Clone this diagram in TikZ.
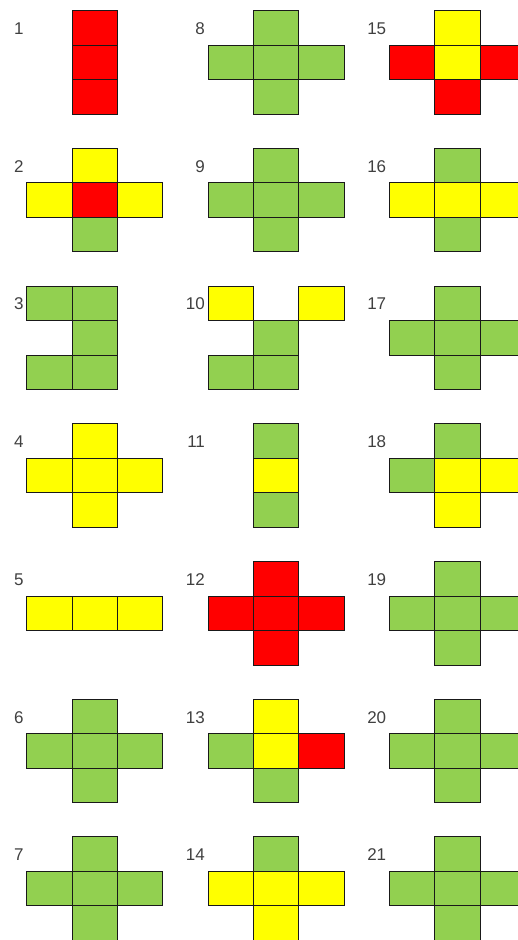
\documentclass[tikz,border=0pt]{standalone}
\usepackage{fontspec}
\setmainfont{Liberation Sans}
\usepackage{tikz}

\definecolor{gn}{HTML}{92D050}
\definecolor{rd}{HTML}{FF0000}
\definecolor{yl}{HTML}{FFFF00}
\tikzset{
  face/.style={draw=black!90, line width=1pt},
  netlabel/.style={anchor=east, inner sep=0pt, text=black!75, font=\fontsize{17}{17}\selectfont},
}

\begin{document}
\begin{tikzpicture}[x=1pt, y=-1pt]
\clip (0,0) rectangle (518,940);
\def\cw{45.3}
\def\ch{34.5}
% number / column / row / faces (across / down / colour)
\foreach \n/\pc/\pr/\faces in {
  1/0/0/{1/0/rd,1/1/rd,1/2/rd},
  2/0/1/{1/0/yl,0/1/yl,1/1/rd,2/1/yl,1/2/gn},
  3/0/2/{0/0/gn,1/0/gn,1/1/gn,0/2/gn,1/2/gn},
  4/0/3/{1/0/yl,0/1/yl,1/1/yl,2/1/yl,1/2/yl},
  5/0/4/{0/1/yl,1/1/yl,2/1/yl},
  6/0/5/{1/0/gn,0/1/gn,1/1/gn,2/1/gn,1/2/gn},
  7/0/6/{1/0/gn,0/1/gn,1/1/gn,2/1/gn,1/2/gn},
  8/1/0/{1/0/gn,0/1/gn,1/1/gn,2/1/gn,1/2/gn},
  9/1/1/{1/0/gn,0/1/gn,1/1/gn,2/1/gn,1/2/gn},
  10/1/2/{0/0/yl,2/0/yl,1/1/gn,0/2/gn,1/2/gn},
  11/1/3/{1/0/gn,1/1/yl,1/2/gn},
  12/1/4/{1/0/rd,0/1/rd,1/1/rd,2/1/rd,1/2/rd},
  13/1/5/{1/0/yl,0/1/gn,1/1/yl,2/1/rd,1/2/gn},
  14/1/6/{1/0/gn,0/1/yl,1/1/yl,2/1/yl,1/2/yl},
  15/2/0/{1/0/yl,0/1/rd,1/1/yl,2/1/rd,1/2/rd},
  16/2/1/{1/0/gn,0/1/yl,1/1/yl,2/1/yl,1/2/gn},
  17/2/2/{1/0/gn,0/1/gn,1/1/gn,2/1/gn,1/2/gn},
  18/2/3/{1/0/gn,0/1/gn,1/1/yl,2/1/yl,1/2/yl},
  19/2/4/{1/0/gn,0/1/gn,1/1/gn,2/1/gn,1/2/gn},
  20/2/5/{1/0/gn,0/1/gn,1/1/gn,2/1/gn,1/2/gn},
  21/2/6/{1/0/gn,0/1/gn,1/1/gn,2/1/gn,1/2/gn}}{
  \pgfmathsetmacro\px{26.8+181.3*\pc}
  \pgfmathsetmacro\py{10.7+137.7*\pr}
  \foreach \i/\j/\col in \faces
    \filldraw[face, fill=\col] (\px+\i*\cw, \py+\j*\ch) rectangle ++(\cw,\ch);
  \node[netlabel] (lab\n) at (\px-3, \py+18) {\n};
}
\end{tikzpicture}
\end{document}
